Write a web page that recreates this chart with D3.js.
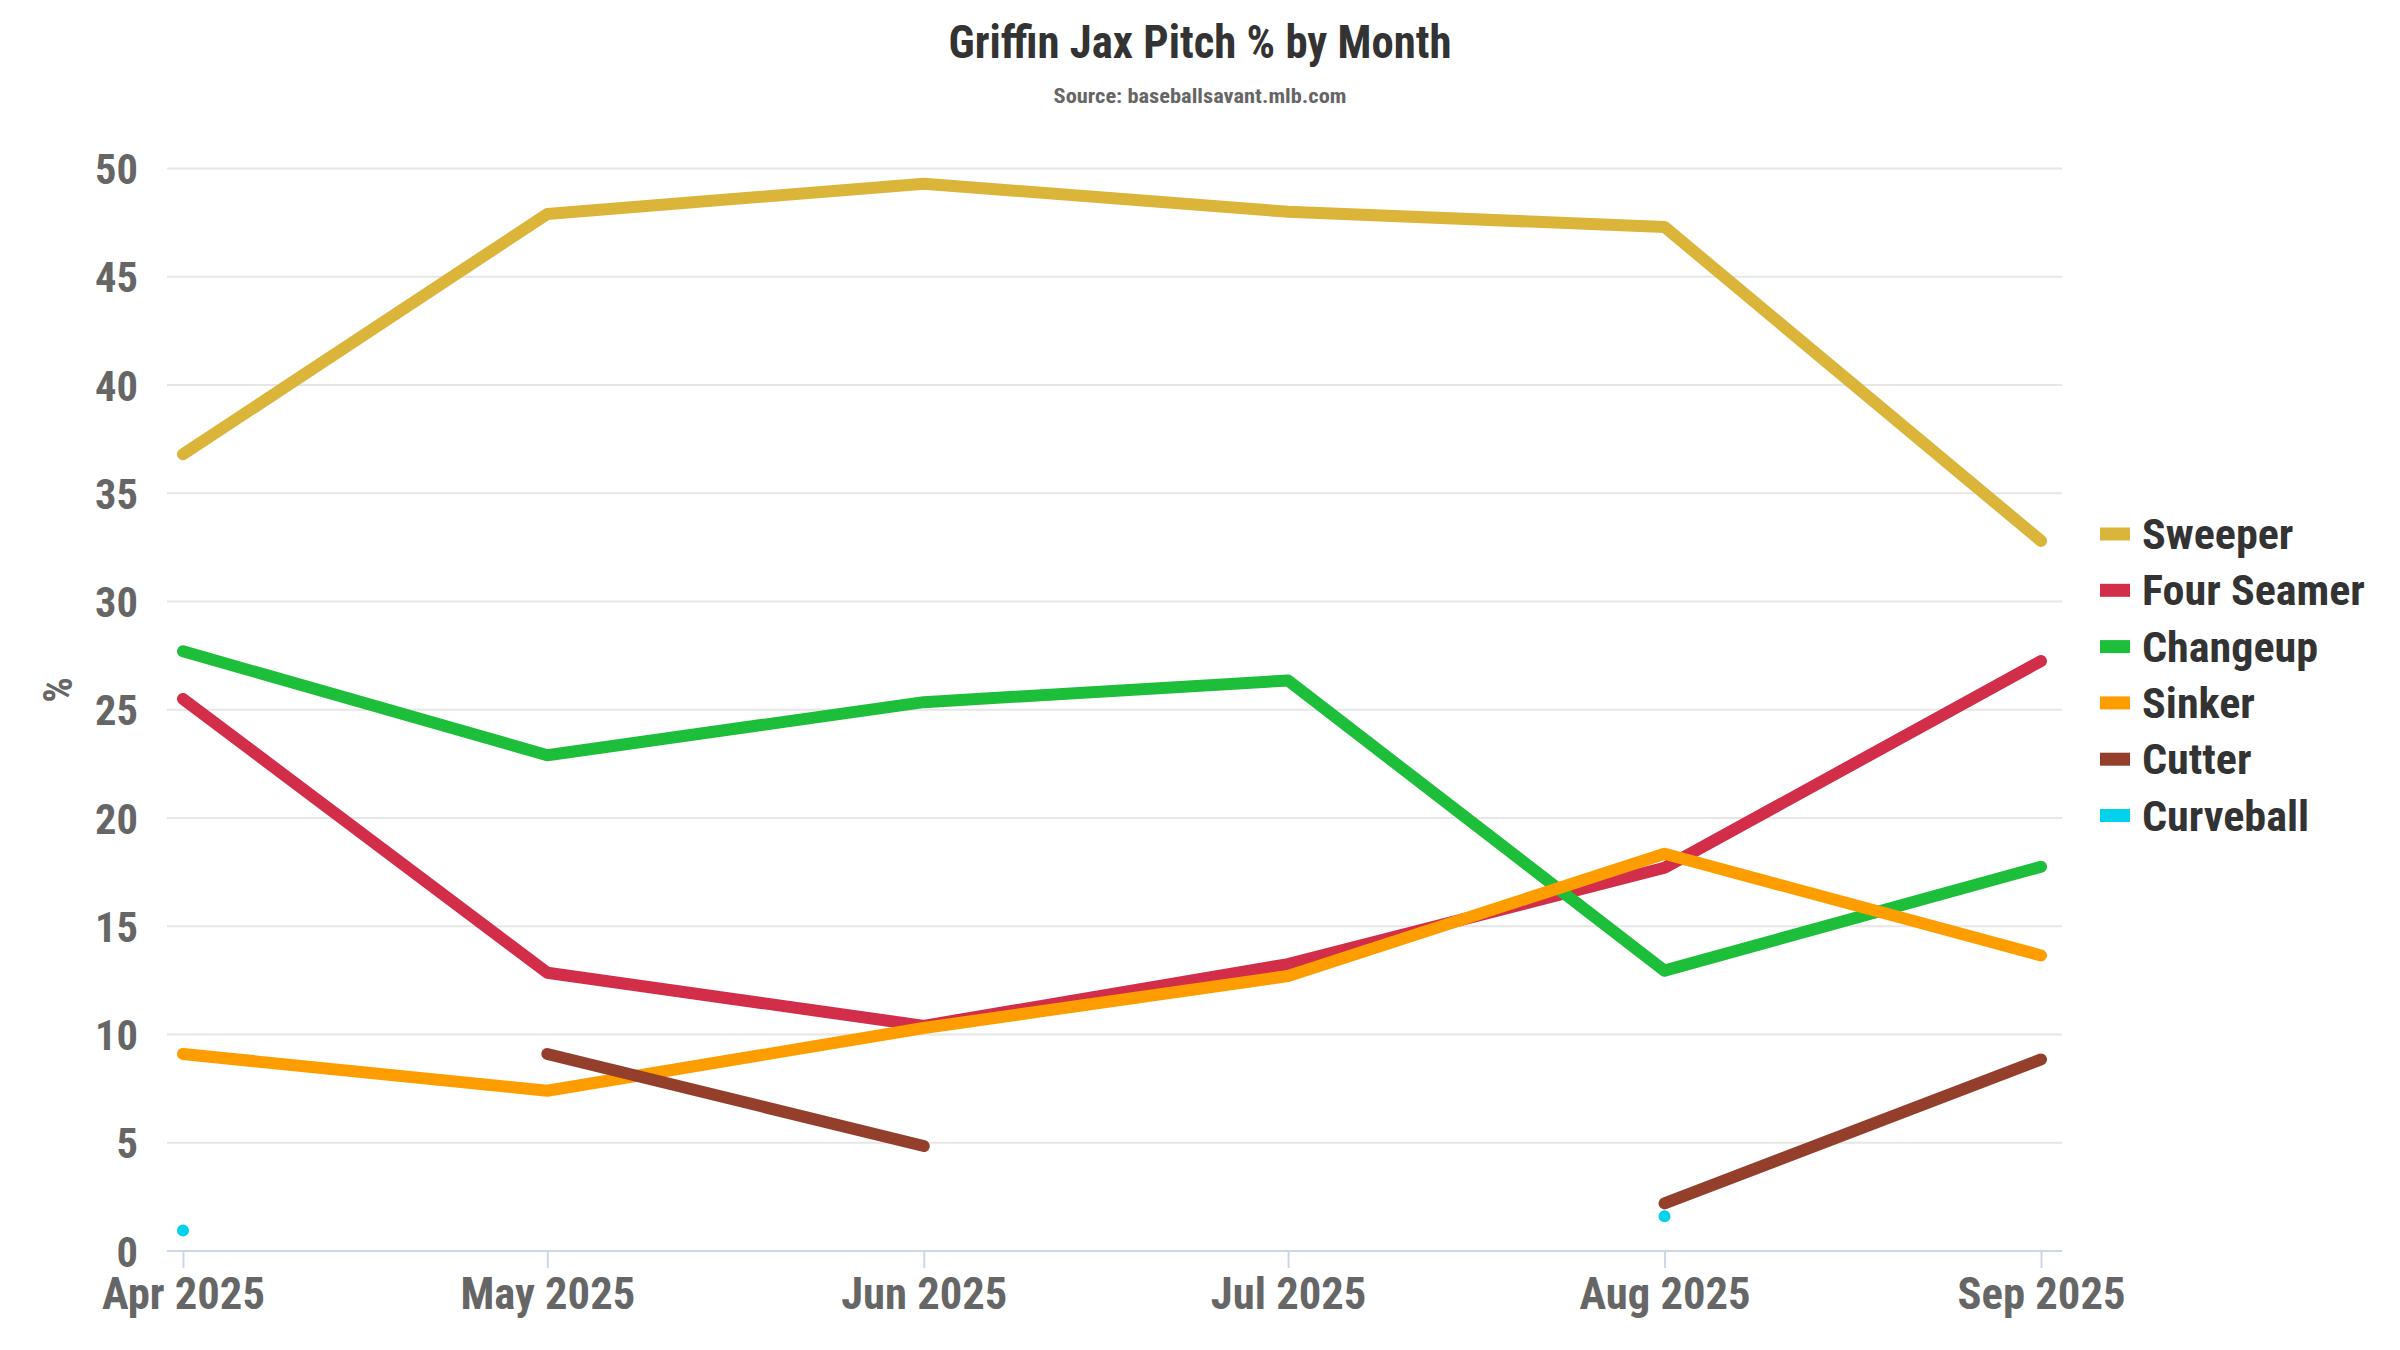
<!DOCTYPE html>
<html lang="en">
<head>
<meta charset="utf-8">
<title>Griffin Jax Pitch % by Month</title>
<script src="https://d3js.org/d3.v7.min.js"></script>
<style>
  body { margin: 0; background: #fff; }
  text { font-family: "Roboto Condensed", Roboto, "Noto Sans", sans-serif; font-weight: 700; }
</style>
</head>
<body>
<div id="chart"></div>
<script>
// months (first of each month) and pitch usage %
var months = ["2025-04-01", "2025-05-01", "2025-06-01", "2025-07-01", "2025-08-01", "2025-09-01"];
var pitchNames = ["Sweeper", "Four Seamer", "Changeup", "Sinker", "Cutter", "Curveball"];
var pitchColors = ["#dbb43a", "#d22d49", "#1dbe3a", "#fe9d00", "#933f2c", "#00d1ed"];
var sweeper = [36.8, 47.9, 49.3, 48.0, 47.3, 32.8];
var fourSeamer = [25.5, 12.85, 10.4, 13.25, 17.7, 27.25];
var changeup = [27.7, 22.9, 25.35, 26.35, 12.95, 17.75];
var sinker = [9.1, 7.4, 10.3, 12.7, 18.35, 13.65];
var cutter = [null, 9.1, 4.85, null, 2.2, 8.85];
var curveball = [0.95, null, null, null, 1.6, null];
var yTicks = [0, 5, 10, 15, 20, 25, 30, 35, 40, 45, 50];

var W = 2400, H = 1350;
var plotLeft = 167, plotRight = 2062;

var svg = d3.select("#chart").append("svg")
    .attr("width", W)
    .attr("height", H);

var parse = d3.utcParse("%Y-%m-%d");
var dates = months.map(parse);

var x = d3.scaleUtc()
    .domain([dates[0], dates[dates.length - 1]])
    .range([183, 2041]);
var y = d3.scaleLinear()
    .domain([0, 50])
    .range([1251, 168.5]);

// horizontal squeeze/stretch so that a sample string gets the wanted width
function widthScale(str, size, wanted) {
    var t = svg.append("text").attr("font-size", size).text(str);
    var w = t.node().getComputedTextLength();
    t.remove();
    return w > 0 ? wanted / w : 1;
}

function label(g, tx, ty, str, size, fill, anchor, s, rot) {
    return g.append("text")
        .attr("transform", "translate(" + tx + "," + ty + ")" + (rot ? " rotate(" + rot + ")" : "") + " scale(" + s + ",1)")
        .attr("font-size", size)
        .attr("fill", fill)
        .attr("text-anchor", anchor)
        .text(str);
}

// gridlines
svg.append("g")
    .selectAll("line")
    .data(yTicks.filter(function(d) { return d > 0; }))
    .enter().append("line")
    .attr("x1", plotLeft).attr("x2", plotRight)
    .attr("y1", function(d) { return y(d); })
    .attr("y2", function(d) { return y(d); })
    .attr("stroke", "#e6e6e6")
    .attr("stroke-width", 2);

// y axis labels
var ys = widthScale("50", 43, 43);
var yg = svg.append("g")
    .attr("transform", "translate(138,0)")
    .call(d3.axisLeft(y).tickValues(yTicks).tickSize(0).tickPadding(0));
yg.select(".domain").remove();
yg.selectAll("text")
    .attr("font-size", 43)
    .attr("fill", "#666666")
    .attr("dy", "0.35em")
    .attr("transform", "scale(" + ys + ",1)")
    .attr("x", 0);

// x axis
var xs = widthScale("Apr 2025", 45, 163);
var xg = svg.append("g")
    .attr("transform", "translate(0," + y(0) + ")")
    .call(d3.axisBottom(x).tickValues(dates).tickFormat(d3.utcFormat("%b %Y")).tickSize(17).tickPadding(0));
xg.select(".domain")
    .attr("d", "M" + plotLeft + ",0H" + plotRight)
    .attr("stroke", "#ccd6eb")
    .attr("stroke-width", 2);
xg.selectAll(".tick line")
    .attr("stroke", "#ccd6eb")
    .attr("stroke-width", 2);
xg.selectAll(".tick text")
    .attr("font-size", 45)
    .attr("fill", "#666666")
    .attr("y", 0)
    .attr("dy", 0)
    .attr("transform", "translate(0,58) scale(" + xs + ",1)");

// series
var seriesValues = [sweeper, fourSeamer, changeup, sinker, cutter, curveball];
var series = pitchNames.map(function(name, i) {
    return {
        name: name,
        color: pitchColors[i],
        values: dates.map(function(d, j) { return { date: d, v: seriesValues[i][j] }; })
    };
});

var line = d3.line()
    .defined(function(d) { return d.v != null; })
    .x(function(d) { return x(d.date); })
    .y(function(d) { return y(d.v); });

var sg = svg.append("g");
series.forEach(function(s, i) {
    sg.append("path")
        .datum(s.values)
        .attr("d", line)
        .attr("fill", "none")
        .attr("stroke", s.color)
        .attr("stroke-width", 12)
        .attr("stroke-linecap", "round")
        .attr("stroke-linejoin", "round");
    // isolated points (no neighbour) drawn as small dots
    s.values.forEach(function(d, j) {
        var prev = j > 0 ? s.values[j - 1].v : null;
        var next = j < s.values.length - 1 ? s.values[j + 1].v : null;
        if (d.v != null && prev == null && next == null) {
            sg.append("circle")
                .attr("cx", x(d.date))
                .attr("cy", y(d.v))
                .attr("r", 3.5)
                .attr("fill", s.color);
        }
    });
});

// titles
var titleText = "Griffin Jax Pitch % by Month";
var subText = "Source: baseballsavant.mlb.com";
label(svg, 1200, 58, titleText, 46, "#333333", "middle", widthScale(titleText, 46, 503));
label(svg, 1200, 103, subText, 21, "#666666", "middle", widthScale(subText, 21, 293));
label(svg, 72, 690, "%", 40, "#666666", "middle", 1, -90);

// legend
var ls = widthScale("Four Seamer", 42, 223);
var lg = svg.append("g").attr("transform", "translate(2100,534)");
series.forEach(function(s, i) {
    var row = lg.append("g").attr("transform", "translate(0," + (i * 56.3) + ")");
    row.append("rect")
        .attr("x", 0).attr("y", -6.5)
        .attr("width", 30).attr("height", 13)
        .attr("fill", s.color);
    label(row, 42, 15, s.name, 42, "#333333", "start", ls);
});
</script>
</body>
</html>
